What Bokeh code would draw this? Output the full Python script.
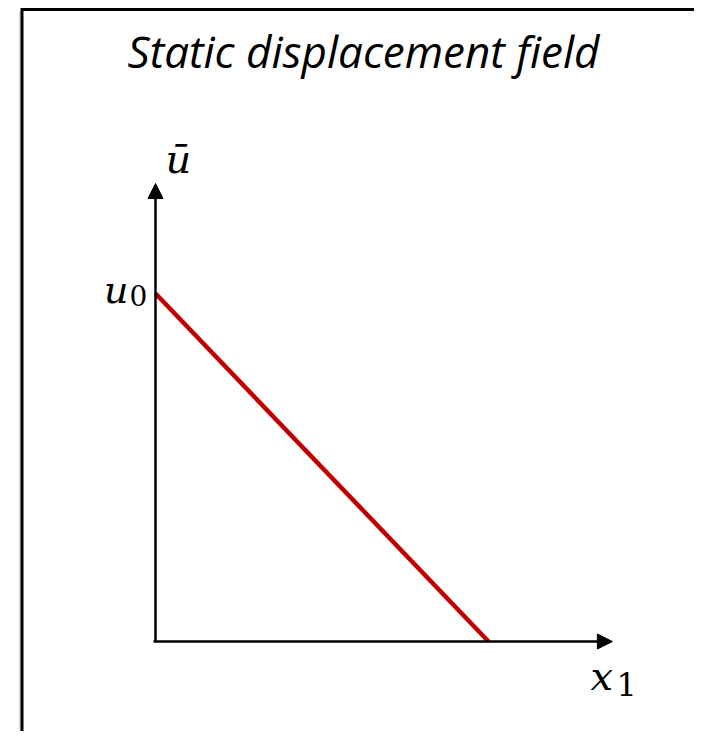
from bokeh.plotting import figure
from bokeh.models import Range1d, Arrow, NormalHead, Label
from bokeh.embed import file_html
from bokeh.resources import INLINE

# ---- data ----
title_text = "Static displacement field"
x_vals = [0.0, 1.0]          # x1 (normalised)
u_vals = [1.0, 0.0]          # static displacement u-bar (u0 -> 0)
x_axis_end = 1.372
u_axis_end = 1.316
y_label = "\u016b"
u0_label = ["u", "0"]
x_label = ["x", "1"]

W, H = 694, 731
sx, sy = 333.0, 348.0          # px per unit
ox, oy = 155.0, 641.0          # origin position in picture (from left / from top)
x0 = -ox / sx
y_top = oy / sy

p = figure(width=W, height=H, output_backend="svg", toolbar_location=None,
           x_range=Range1d(x0, x0 + W / sx), y_range=Range1d(y_top - H / sy, y_top),
           min_border=0, outline_line_color=None)
p.axis.visible = False
p.grid.visible = False
p.background_fill_color = "white"
p.border_fill_color = "white"

def dx(px):   # picture pixel -> data x
    return (px - ox) / sx

def dy(py):   # picture pixel -> data y
    return (oy - py) / sy

# frame border (top and left edges), with soft shadow
p.line([dx(19.5), dx(19.5)], [dy(780), dy(11)], line_color="#dcdcdc", line_width=2)
p.line([dx(21.5), dx(21.5), dx(760)], [dy(780), dy(9), dy(9)], line_color="black", line_width=3,
       line_join="miter")

# red displacement line
p.line(x_vals, u_vals, line_color="#C00000", line_width=4.5)

# axes with arrows
head_kw = dict(size=15, fill_color="black", line_color="black", line_width=1)
p.add_layout(Arrow(end=NormalHead(**head_kw), x_start=dx(153), y_start=0, x_end=x_axis_end, y_end=0,
                   line_width=2.5, line_color="black"))
p.add_layout(Arrow(end=NormalHead(**head_kw), x_start=0, y_start=0, x_end=0, y_end=u_axis_end,
                   line_width=2.5, line_color="black"))

# title
p.add_layout(Label(x=dx(363), y=dy(50), text=title_text, text_align="center", text_baseline="alphabetic",
                   text_font="Open Sans", text_font_style="italic", text_font_size="44px", text_color="black"))

math_font = "DejaVu Serif"
# u-bar
p.add_layout(Label(x=dx(178), y=dy(158), text=y_label, text_align="center", text_baseline="alphabetic",
                   text_font=math_font, text_font_style="italic", text_font_size="40px", text_color="black"))
# u0
p.add_layout(Label(x=dx(128), y=dy(289), text=u0_label[0], text_align="right", text_baseline="alphabetic",
                   text_font=math_font, text_font_style="italic", text_font_size="38px", text_color="black"))
p.add_layout(Label(x=dx(129), y=dy(295), text=u0_label[1], text_align="left", text_baseline="alphabetic",
                   text_font=math_font, text_font_size="28px", text_color="black"))
# x1
p.add_layout(Label(x=dx(590), y=dy(675), text=x_label[0], text_align="left", text_baseline="alphabetic",
                   text_font=math_font, text_font_style="italic", text_font_size="40px", text_color="black"))
p.add_layout(Label(x=dx(616), y=dy(684), text=x_label[1], text_align="left", text_baseline="alphabetic",
                   text_font=math_font, text_font_size="32px", text_color="black"))

open("out.html", "w").write(file_html(p, INLINE))
